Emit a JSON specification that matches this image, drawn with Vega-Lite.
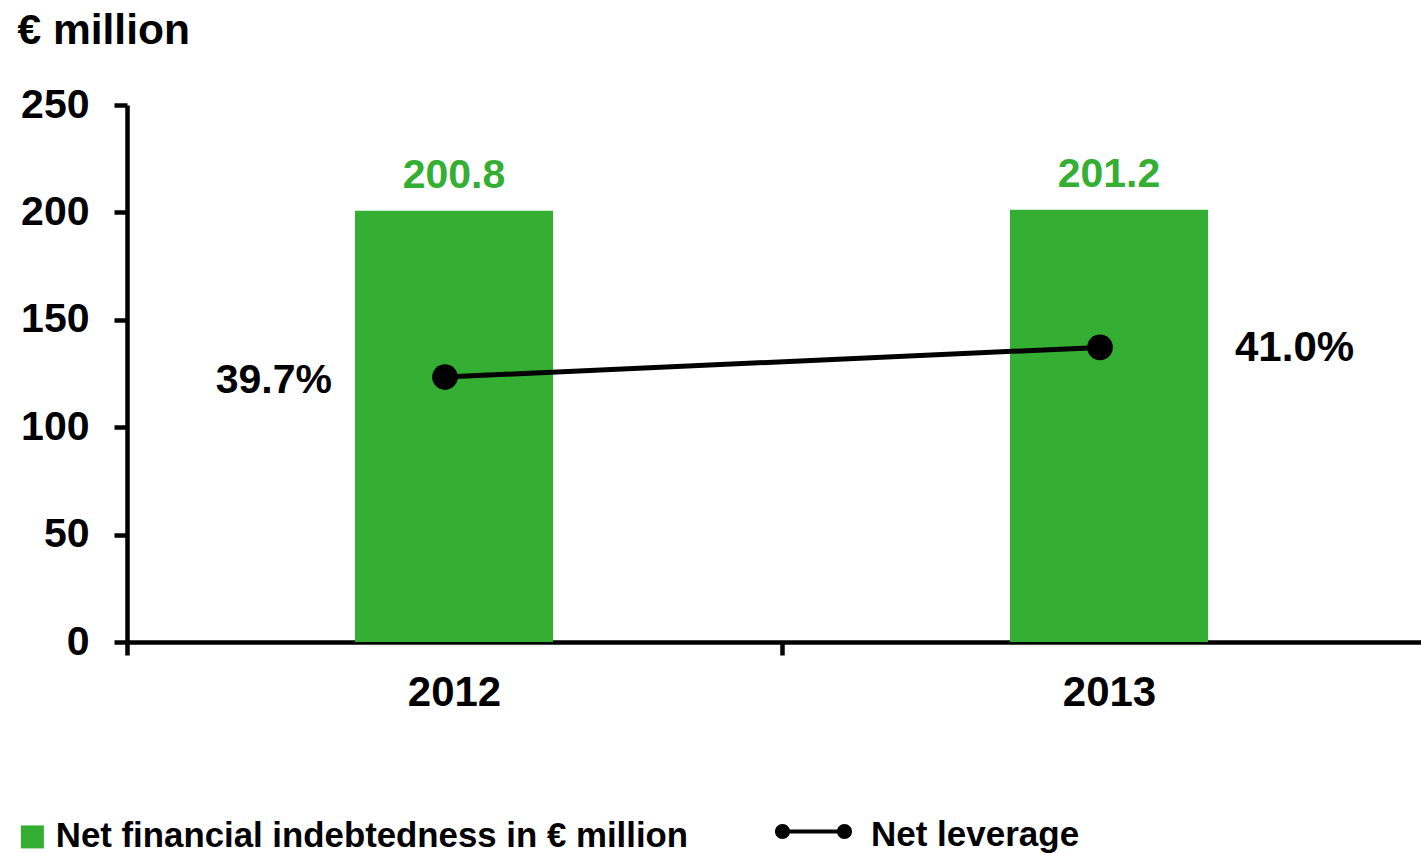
{
  "$schema": "https://vega.github.io/schema/vega-lite/v6.json",
  "width": 1294,
  "height": 537,
  "autosize": {"type": "none"},
  "padding": {"left": 127, "top": 105, "right": 0, "bottom": 211},
  "background": "white",
  "config": {"view": {"stroke": null}, "font": "Liberation Sans"},
  "data": {"values": [
    {"year": "2012", "debt": 200.8, "leverage": 39.7, "lev_label": "39.7%"},
    {"year": "2013", "debt": 201.2, "leverage": 41.0, "lev_label": "41.0%"}
  ]},
  "layer": [
    {
      "layer": [
        {
          "mark": {"type": "bar"},
          "encoding": {
            "x": {
              "field": "year", "type": "nominal",
              "scale": {"paddingInner": 0.6977, "paddingOuter": 0.33664, "align": 0.517},
              "axis": {
                "title": null, "labelAngle": 0, "labelFont": "Liberation Sans", "labelFontSize": 42,
                "labelFontWeight": "bold", "labelColor": "black", "labelPadding": 17,
                "tickOffset": -327, "labelOffset": 327, "tickSize": 13, "tickWidth": 4.5, "tickColor": "black",
                "domainColor": "black", "domainWidth": 4.5, "grid": false
              }
            },
            "y": {
              "field": "debt", "type": "quantitative",
              "scale": {"domain": [0, 250], "nice": false},
              "axis": {
                "title": "€ million", "titleAngle": 0, "titleAlign": "left", "titleBaseline": "alphabetic",
                "titleX": -110, "titleY": -62, "titleFont": "Liberation Sans", "titleFontSize": 42.5,
                "titleFontWeight": "bold", "titleColor": "black",
                "values": [0, 50, 100, 150, 200, 250],
                "labelFont": "Liberation Sans", "labelFontSize": 41, "labelFontWeight": "bold",
                "labelColor": "black", "labelPadding": 25,
                "tickSize": 13, "tickWidth": 4.5, "tickColor": "black",
                "domainColor": "black", "domainWidth": 4.5, "grid": false
              }
            },
            "color": {
              "datum": "Net financial indebtedness in € million",
              "scale": {"range": ["#35ae34"]},
              "legend": {
                "title": null, "orient": "none", "legendX": -112, "legendY": 714.5,
                "symbolType": "square", "symbolSize": 529, "symbolStrokeWidth": 0,
                "labelFont": "Liberation Sans", "labelFontSize": 34.8, "labelFontWeight": "bold",
                "labelColor": "black", "labelOffset": 6, "padding": 0, "labelLimit": 1000
              }
            }
          }
        },
        {
          "mark": {"type": "text", "dy": -23, "baseline": "alphabetic", "font": "Liberation Sans", "fontSize": 41, "fontWeight": "bold", "color": "#35ae34"},
          "encoding": {
            "x": {"field": "year", "type": "nominal"},
            "y": {"field": "debt", "type": "quantitative"},
            "text": {"field": "debt", "type": "quantitative", "format": ".1f"}
          }
        }
      ]
    },
    {
      "layer": [
        {
          "mark": {"type": "line", "strokeWidth": 5, "xOffset": -9},
          "encoding": {
            "x": {"field": "year", "type": "nominal"},
            "y": {"field": "leverage", "type": "quantitative", "scale": {"domain": [28.08, 51.63], "nice": false, "zero": false}, "axis": null},
            "stroke": {
              "datum": "Net leverage",
              "scale": {"range": ["black"]},
              "legend": {
                "title": null, "orient": "none", "legendX": 648, "legendY": 688,
                "symbolType": "M-1,0A0.195,0.195,0,1,1,-0.61,0A0.195,0.195,0,1,1,-1,0Z M0.61,0A0.195,0.195,0,1,1,1,0A0.195,0.195,0,1,1,0.61,0Z M-0.805,-0.052H0.805V0.052H-0.805Z",
                "symbolSize": 5929,
                "labelFont": "Liberation Sans", "labelFontSize": 35, "labelFontWeight": "bold",
                "labelColor": "black", "labelOffset": 19, "padding": 0, "labelLimit": 1000,
                "encode": {
                  "symbols": {"update": {"fill": {"value": "black"}, "strokeWidth": {"value": 0}, "opacity": {"value": 1}}},
                  "labels": {"update": {"dy": {"value": 3}}}
                }
              }
            }
          }
        },
        {
          "mark": {"type": "circle", "size": 660, "color": "black", "opacity": 1, "xOffset": -9},
          "encoding": {
            "x": {"field": "year", "type": "nominal"},
            "y": {"field": "leverage", "type": "quantitative", "scale": {"domain": [28.08, 51.63], "nice": false, "zero": false}, "axis": null}
          }
        },
        {
          "transform": [{"filter": "datum.year == '2012'"}],
          "mark": {"type": "text", "align": "right", "baseline": "middle", "dx": -122, "dy": 4, "font": "Liberation Sans", "fontSize": 41, "fontWeight": "bold", "color": "black"},
          "encoding": {
            "x": {"field": "year", "type": "nominal"},
            "y": {"field": "leverage", "type": "quantitative", "scale": {"domain": [28.08, 51.63], "nice": false, "zero": false}, "axis": null},
            "text": {"field": "lev_label", "type": "nominal"}
          }
        },
        {
          "transform": [{"filter": "datum.year == '2013'"}],
          "mark": {"type": "text", "align": "left", "baseline": "middle", "dx": 126, "dy": 1, "font": "Liberation Sans", "fontSize": 42, "fontWeight": "bold", "color": "black"},
          "encoding": {
            "x": {"field": "year", "type": "nominal"},
            "y": {"field": "leverage", "type": "quantitative", "scale": {"domain": [28.08, 51.63], "nice": false, "zero": false}, "axis": null},
            "text": {"field": "lev_label", "type": "nominal"}
          }
        }
      ]
    }
  ],
  "resolve": {"scale": {"y": "independent"}}
}
